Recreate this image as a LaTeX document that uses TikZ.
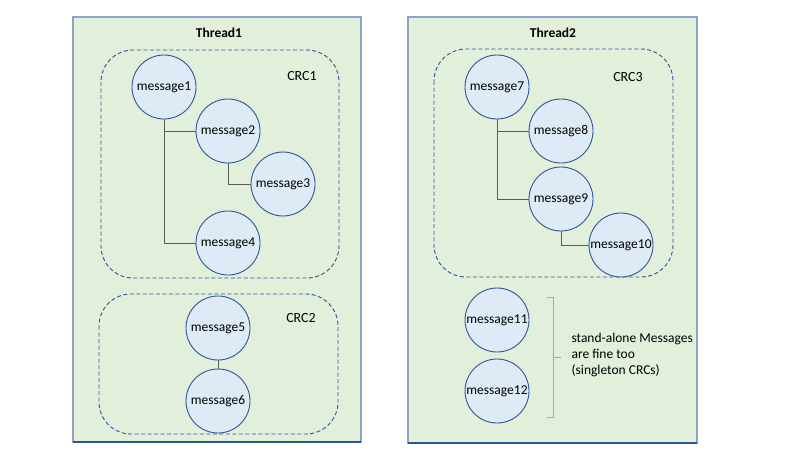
\documentclass[tikz,border=0pt]{standalone}
\usepackage{fontspec}
\setmainfont{Carlito}
\definecolor{thfill}{HTML}{E2EFDA}
\definecolor{thdraw}{HTML}{8EA1C6}
\definecolor{thbot}{HTML}{2F5597}
\definecolor{cfill}{HTML}{DEEBF7}
\definecolor{cdraw}{HTML}{2F5597}
\definecolor{crcdraw}{HTML}{2F5597}
\definecolor{conn}{HTML}{595959}
\definecolor{brk}{HTML}{8FAADC}
\begin{document}
\begin{tikzpicture}[x=1pt,y=-1pt,
  thread/.style={draw=thdraw,fill=thfill,line width=1.3pt},
  crc/.style={draw=crcdraw,dashed,dash pattern=on 4pt off 2.5pt,rounded corners=32pt,line width=0.9pt},
  msg/.style={circle,draw=cdraw,fill=cfill,line width=0.9pt,minimum size=64pt,inner sep=0pt,font=\fontsize{13.5}{15}\selectfont},
  lbl/.style={font=\fontsize{14}{16}\selectfont},
  ttl/.style={font=\bfseries\fontsize{13.5}{15}\selectfont},
  link/.style={draw=conn,line width=0.8pt}]
\useasboundingbox (0,0) rectangle (800,450);
\fill[white] (0,0) rectangle (800,450);
% thread boxes
\draw[thread] (73,17) rectangle (361,442);
\draw[thbot,line width=1.3pt] (73,442) -- (361,442);
\draw[thread] (408,17) rectangle (697,443);
\draw[thbot,line width=1.3pt] (408,443) -- (697,443);
\node[ttl] (t1) at (219,33) {Thread1};
\node[ttl] (t2) at (553,33) {Thread2};
% CRC boxes
\draw[crc] (101,50) rectangle (339,278);
\draw[crc] (99,294) rectangle (338,434);
\draw[crc] (434,49) rectangle (673,277);
\node[lbl] (c1) at (302,76) {CRC1};
\node[lbl] (c2) at (301,318) {CRC2};
\node[lbl] (c3) at (628,77) {CRC3};
% messages
\node[msg] (m1) at (164,87) {message1};
\node[msg] (m2) at (228,131) {message2};
\node[msg] (m3) at (283,184) {message3};
\node[msg] (m4) at (228,243) {message4};
\node[msg] (m5) at (218,328) {message5};
\node[msg] (m6) at (218,401) {message6};
\node[msg] (m7) at (497,87) {message7};
\node[msg] (m8) at (561,131) {message8};
\node[msg] (m9) at (561,199) {message9};
\node[msg] (m10) at (621,245) {message10};
\node[msg] (m11) at (497,320) {message11};
\node[msg] (m12) at (497,391) {message12};
% connectors
\draw[link] (m1.south) |- (m2.west);
\draw[link] (m1.south) |- (m4.west);
\draw[link] (m2.south) |- (m3.west);
\draw[link] (m5.south) -- (m6.north);
\draw[link] (m7.south) |- (m8.west);
\draw[link] (m7.south) |- (m9.west);
\draw[link] (m9.south) |- (m10.west);
% bracket and note
\node[anchor=west,align=left,font=\fontsize{13.5}{16}\selectfont] (note) at (568,355) {stand-alone Messages\\are fine too\\(singleton CRCs)};
\coordinate (bt) at (553,297);
\coordinate (bb) at (553,417);
\coordinate (bm) at (561,357);
\draw[brk,line width=0.9pt] ([xshift=-6pt]bt) -- (bt) -- (bb) -- ([xshift=-6pt]bb);
\draw[brk,line width=0.9pt] (553,357) -- (bm);
\end{tikzpicture}
\end{document}
